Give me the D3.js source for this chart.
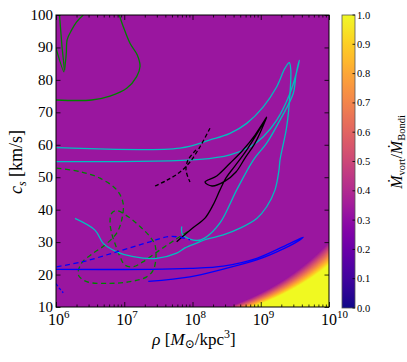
<!DOCTYPE html>
<html>
<head>
<meta charset="utf-8">
<script src="https://cdn.jsdelivr.net/npm/d3@7"></script>
<style>
  body { margin: 0; background: #fff; }
</style>
</head>
<body>
<svg id="chart" width="407" height="362"></svg>
<script>
// Curves in the (rho, c_s) plane: [log10 rho, c_s in km/s]
var greenSolidTipA = [[6.0, 89.8], [6.117, 82.5], [6.085, 91.0], [6.051, 100]];
var greenSolidTipB = [[6.125, 83.0], [6.150, 88.0], [6.165, 92.5], [6.23, 95.4], [6.30, 97.8], [6.40, 100]];
var greenSolidLoop = [[6.0, 73.8], [6.523, 73.8], [6.791, 75.0], [7.036, 77.4], [7.182, 81.0], [7.231, 84.1],
                      [7.191, 87.7], [7.084, 91.3], [6.986, 96.4], [6.927, 100]];
var greenDashed = [[6.010, 52.8], [6.352, 51.7], [6.645, 49.7], [6.889, 46.1], [6.982, 42.1], [6.963, 36.8],
                   [6.889, 32.8], [6.718, 29.1], [6.547, 26.6], [6.377, 23.6], [6.327, 19.9], [6.450, 17.8],
                   [6.791, 17.3], [7.084, 17.8], [7.329, 19.3], [7.426, 21.4], [7.465, 25.5], [7.451, 29.1],
                   [7.377, 31.7], [7.231, 34.8], [7.059, 37.8], [6.889, 39.7], [6.816, 38.9], [6.791, 36.3],
                   [6.816, 32.7], [6.864, 29.6], [6.938, 25.5], [7.011, 22.9], [7.133, 22.4], [7.279, 24.0],
                   [7.524, 27.6], [7.744, 30.7], [7.963, 33.7]];
var cyanUpper = [[6.0, 59.1], [7.817, 59.0], [8.256, 61.5], [8.549, 63.5], [8.794, 66.6], [9.037, 71.7],
                 [9.234, 77.9], [9.355, 83.6], [9.418, 85.3], [9.440, 83.1], [9.429, 76.0], [9.380, 65.5],
                 [9.282, 55.3], [9.267, 52.2], [9.209, 46.1], [9.087, 40.9], [8.941, 37.3], [8.696, 34.3],
                 [8.451, 32.2], [8.208, 30.9], [8.062, 29.7], [7.890, 28.2], [7.768, 26.6], [7.475, 25.0],
                 [7.133, 25.5], [6.889, 27.0], [6.693, 29.6], [6.571, 33.7], [6.278, 37.3]];
var cyanLower = [[6.0, 54.8], [8.110, 55.5], [8.549, 56.9], [8.843, 59.4], [9.037, 62.5], [9.234, 67.6],
                 [9.429, 75.9], [9.527, 82.5], [9.565, 86.0], [9.516, 81.5], [9.477, 75.9], [9.282, 67.6],
                 [9.087, 60.5], [8.891, 55.3], [8.648, 46.1], [8.403, 35.9], [8.183, 31.3], [8.062, 30.5],
                 [7.857, 32.2], [7.842, 34.8]];
var blackSolid = [[7.768, 30.1], [8.007, 34.4], [8.183, 37.4], [8.300, 41.4], [8.403, 46.1], [8.491, 49.8],
                  [8.623, 53.5], [8.813, 59.0], [9.087, 68.5], [8.916, 63.0], [8.740, 58.4], [8.549, 54.3],
                  [8.355, 50.4], [8.183, 48.5], [8.286, 47.3], [8.476, 48.8], [8.637, 51.6], [8.769, 55.9],
                  [8.916, 60.5], [9.087, 68.5]];
var blackDashedA = [[8.256, 65.1], [8.110, 59.4], [7.963, 54.7], [7.817, 51.6], [7.626, 49.1], [7.451, 47.3]];
var blackDashedB = [[8.051, 58.4], [7.934, 55.3], [7.905, 52.2], [7.963, 48.5]];
var blueSolid = [[6.0, 21.6], [7.377, 21.6], [7.963, 21.9], [8.451, 22.6], [8.941, 25.0], [9.330, 28.6],
                 [9.623, 31.5], [9.575, 30.7], [9.330, 27.9], [8.941, 24.5], [8.451, 21.7], [7.963, 19.3],
                 [7.352, 17.9]];
var blueDashed = [[6.010, 22.4], [6.400, 24.0], [6.889, 27.0], [7.377, 30.1], [7.646, 31.7], [7.817, 31.5],
                  [7.963, 30.7]];
var blueDashedEdge = [[6.0, 17.2], [6.06, 15.5], [6.107, 14.4]];

// Background field: ratio is flat, then rises with log10(rho / c_s^3.1)
var fieldFloor = 0.33;
var fieldSlope = 3.1;
var fieldRamp = [5.42, 5.78];   // where the ratio goes from floor to 1

var yTicks = [10, 20, 30, 40, 50, 60, 70, 80, 90, 100];
var xDecades = [6, 7, 8, 9, 10];
var cbTicks = [0.0, 0.1, 0.2, 0.3, 0.4, 0.5, 0.6, 0.7, 0.8, 0.9, 1.0];

var serif = "'Liberation Serif', 'DejaVu Serif', serif";

// Set up the figure dimensions:
var plot = {left: 56, right: 329, top: 15, bottom: 307};
var svg = d3.select("#chart").style("font-family", serif);

var x = d3.scaleLog().domain([1e6, 1e10]).range([plot.left, plot.right]);
var y = d3.scaleLinear().domain([10, 100]).range([plot.bottom, plot.top]);
var color = function(v) { return d3.interpolatePlasma(v); };

svg.append("clipPath").attr("id", "clip")
    .append("rect")
    .attr("x", plot.left).attr("y", plot.top)
    .attr("width", plot.right - plot.left).attr("height", plot.bottom - plot.top);

var field = svg.append("g").attr("clip-path", "url(#clip)");
field.append("rect")
    .attr("x", plot.left).attr("y", plot.top)
    .attr("width", plot.right - plot.left).attr("height", plot.bottom - plot.top)
    .style("fill", color(fieldFloor));

// contour bands of the field
var nBands = 60;
var csGrid = d3.range(5, 101, 1);
var bandLine = d3.line().x(function(d) { return d[0]; }).y(function(d) { return d[1]; });
d3.range(1, nBands + 1).forEach(function(k) {
    var f = k / nBands;
    var t = fieldRamp[0] + (fieldRamp[1] - fieldRamp[0]) * f;
    var pts = csGrid.map(function(cs) {
        return [x(Math.pow(10, t + fieldSlope * Math.log10(cs))), y(cs)];
    });
    pts.push([plot.right + 2000, y(100)]);
    pts.push([plot.right + 2000, y(5)]);
    field.append("path")
        .attr("d", bandLine(pts) + "Z")
        .style("fill", color(fieldFloor + (1 - fieldFloor) * f))
        .style("stroke", "none");
});

// Draw the curves:
var curves = svg.append("g").attr("clip-path", "url(#clip)");
var line = d3.line()
    .x(function(d) { return x(Math.pow(10, d[0])); })
    .y(function(d) { return y(d[1]); })
    .curve(d3.curveCatmullRom.alpha(0.5));

var series = [
    {data: greenSolidTipA, color: "#008000", dash: null},
    {data: greenSolidTipB, color: "#008000", dash: null},
    {data: greenSolidLoop, color: "#008000", dash: null},
    {data: greenDashed, color: "#008000", dash: "5,3.5"},
    {data: cyanUpper, color: "#00bfbf", dash: null},
    {data: cyanLower, color: "#00bfbf", dash: null},
    {data: blackSolid, color: "#000000", dash: null},
    {data: blackDashedA, color: "#000000", dash: "4,2.5"},
    {data: blackDashedB, color: "#000000", dash: "4,2.5"},
    {data: blueSolid, color: "#0000ff", dash: null},
    {data: blueDashed, color: "#0000ff", dash: "5,3.5"},
    {data: blueDashedEdge, color: "#0000ff", dash: "3,2"}
];
series.forEach(function(s) {
    curves.append("path")
        .attr("d", line(s.data))
        .style("fill", "none")
        .style("stroke", s.color)
        .style("stroke-width", 1.3)
        .style("stroke-dasharray", s.dash);
});

// Axes: ticks point inwards on all four sides
var minorX = [];
xDecades.slice(0, -1).forEach(function(d) {
    d3.range(2, 10).forEach(function(k) { minorX.push(k * Math.pow(10, d)); });
});
var majorX = xDecades.map(function(d) { return Math.pow(10, d); });

function drawAxis(axis, tx, ty) {
    var g = svg.append("g").attr("transform", "translate(" + tx + "," + ty + ")").call(axis);
    g.select(".domain").remove();
    g.selectAll("line").style("stroke", "#000").style("stroke-width", 0.8);
    g.selectAll("text").remove();
}
drawAxis(d3.axisBottom(x).tickValues(majorX).tickSize(-5), 0, plot.bottom);
drawAxis(d3.axisBottom(x).tickValues(minorX).tickSize(-2.5), 0, plot.bottom);
drawAxis(d3.axisTop(x).tickValues(majorX).tickSize(-5), 0, plot.top);
drawAxis(d3.axisTop(x).tickValues(minorX).tickSize(-2.5), 0, plot.top);
drawAxis(d3.axisLeft(y).tickValues(yTicks).tickSize(-4.5), plot.left, 0);
drawAxis(d3.axisRight(y).tickValues(yTicks).tickSize(-4.5), plot.right, 0);

svg.append("rect")
    .attr("x", plot.left).attr("y", plot.top)
    .attr("width", plot.right - plot.left).attr("height", plot.bottom - plot.top)
    .style("fill", "none").style("stroke", "#000").style("stroke-width", 1);

// Y tick labels
svg.selectAll(".ylab").data(yTicks).enter().append("text")
    .attr("x", plot.left - 3)
    .attr("y", function(d) { return y(d) + 5; })
    .attr("text-anchor", "end")
    .style("font-family", serif)
    .style("font-size", "15px")
    .text(function(d) { return d; });

// X tick labels 10^n
xDecades.forEach(function(d) {
    var t = svg.append("text")
        .attr("x", x(Math.pow(10, d)) - 8)
        .attr("y", 325)
        .style("font-family", serif)
        .style("font-size", "16px");
    t.append("tspan").text("10");
    t.append("tspan").attr("dy", -7).style("font-size", "11px").text(d);
});

// Axis titles
var xt = svg.append("text")
    .attr("x", 194).attr("y", 345)
    .attr("text-anchor", "middle")
    .style("font-family", serif)
    .style("font-size", "17px");
xt.append("tspan").style("font-style", "italic").text("ρ");
xt.append("tspan").text(" [");
xt.append("tspan").style("font-style", "italic").text("M");
xt.append("tspan").attr("dy", 3).style("font-size", "12px").text("⊙");
xt.append("tspan").attr("dy", -3).text("/kpc");
xt.append("tspan").attr("dy", -7).style("font-size", "12px").text("3");
xt.append("tspan").attr("dy", 7).text("]");

var yt = svg.append("text")
    .attr("transform", "translate(22,162) rotate(-90)")
    .attr("text-anchor", "middle")
    .style("font-family", serif)
    .style("font-size", "18px");
yt.append("tspan").style("font-style", "italic").text("c");
yt.append("tspan").attr("dy", 4).style("font-size", "12px").style("font-style", "italic").text("s");
yt.append("tspan").attr("dy", -4).text(" [km/s]");

// Colorbar
var cb = {left: 342, right: 355, top: 15, bottom: 308};
var cbScale = d3.scaleLinear().domain([0, 1]).range([cb.bottom, cb.top]);
var grad = svg.append("defs").append("linearGradient")
    .attr("id", "cbgrad")
    .attr("x1", 0).attr("y1", 1).attr("x2", 0).attr("y2", 0);
d3.range(0, 1.0001, 0.02).forEach(function(v) {
    grad.append("stop").attr("offset", v).attr("stop-color", color(v));
});
svg.append("rect")
    .attr("x", cb.left).attr("y", cb.top)
    .attr("width", cb.right - cb.left).attr("height", cb.bottom - cb.top)
    .style("fill", "url(#cbgrad)")
    .style("stroke", "#555").style("stroke-width", 0.8);

svg.selectAll(".cbtick").data(cbTicks).enter().append("line")
    .attr("x1", cb.right - 2.5).attr("x2", cb.right)
    .attr("y1", function(d) { return cbScale(d); })
    .attr("y2", function(d) { return cbScale(d); })
    .style("stroke", "#000").style("stroke-width", 0.8);
svg.selectAll(".cblab").data(cbTicks).enter().append("text")
    .attr("x", cb.right + 2)
    .attr("y", function(d) { return cbScale(d) + 3.5; })
    .style("font-family", serif)
    .style("font-size", "10.5px")
    .text(function(d) { return d.toFixed(1); });

var ct = svg.append("text")
    .attr("transform", "translate(402,152) rotate(-90)")
    .attr("text-anchor", "middle")
    .style("font-family", serif)
    .style("font-size", "16px");
ct.append("tspan").style("font-style", "italic").text("Ṁ");
ct.append("tspan").attr("dy", 2.5).style("font-size", "10.5px").text("vort");
ct.append("tspan").attr("dy", -2.5).text("/");
ct.append("tspan").style("font-style", "italic").text("Ṁ");
ct.append("tspan").attr("dy", 2.5).style("font-size", "10.5px").text("Bondi");
</script>
</body>
</html>
